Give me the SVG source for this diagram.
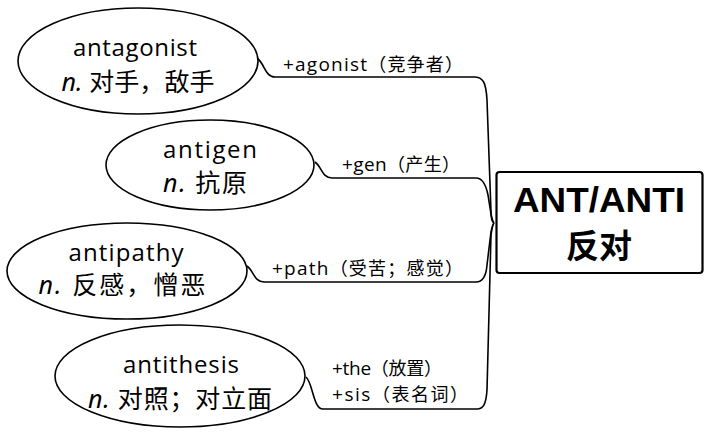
<svg xmlns="http://www.w3.org/2000/svg" width="706" height="433" viewBox="0 0 706 433">
<style>
.bg{fill:#fff}
.el{fill:#fff;stroke:#000;stroke-width:1.6}
.t{font-family:"Open Sans","Noto Sans CJK SC",sans-serif;font-size:24px;fill:#000;text-anchor:middle}
.c{font-family:"Noto Sans","Noto Sans CJK SC",sans-serif;font-size:25px;fill:#000;text-anchor:middle}
.i{font-style:italic}
.l{font-family:"Open Sans","Noto Sans CJK SC",sans-serif;font-size:18px;fill:#000}
.lt{font-size:19px}
.cn{fill:none;stroke:#000;stroke-width:1.6}
.box{fill:#fff;stroke:#000;stroke-width:2.2}
.bt{font-family:"Liberation Sans","Noto Sans CJK SC",sans-serif;font-weight:bold;fill:#000;text-anchor:middle}
</style>
<rect class="bg" x="0" y="0" width="706" height="433"/>
<g id="connectors">
<path class="cn" d="M257,58 C265,64 265,77 275,77 L474,77 C483,77 486,82 487,100 L491,212 C491,219 492,222 494,223"/>
<path class="cn" d="M315,162 C322,167 322,178 332,178 L476,178 C483,178 486,185 488,195 L491,214 C492,219 493,222 494,223"/>
<path class="cn" d="M247,266 C254,271 254,282 264,282 L476,282 C482,282 486,278 487,265 L491,232 C492,227 493,224 494,223"/>
<path class="cn" d="M306,377 C313,383 313,409 323,409 L477,409 C483,409 486,405 487,390 L491,235 C492,228 493,224 494,223"/>
<text class="l" x="283" y="71" textLength="180" lengthAdjust="spacing"><tspan class="lt">+agonist</tspan>（竞争者）</text>
<text class="l" x="342" y="171" textLength="118" lengthAdjust="spacing"><tspan class="lt">+gen</tspan>（产生）</text>
<text class="l" x="272" y="275" textLength="191" lengthAdjust="spacing"><tspan class="lt">+path</tspan>（受苦；感觉）</text>
<text class="l" x="332" y="375" textLength="110" lengthAdjust="spacing"><tspan class="lt">+the</tspan>（放置）</text>
<text class="l" x="332" y="401" textLength="136" lengthAdjust="spacing"><tspan class="lt">+sis</tspan>（表名词）</text>
</g>
<g id="antagonist">
<ellipse class="el" cx="138" cy="61" rx="120" ry="53"/>
<text class="t" x="135" y="56" textLength="124" lengthAdjust="spacing">antagonist</text>
<text class="c" x="138" y="91" textLength="153" lengthAdjust="spacing"><tspan class="i">n.</tspan> 对手，敌手</text>
</g>
<g id="antigen">
<ellipse class="el" cx="210" cy="165" rx="104" ry="45"/>
<text class="t" x="210" y="158" textLength="94" lengthAdjust="spacing">antigen</text>
<text class="c" x="205" y="192" textLength="84" lengthAdjust="spacing"><tspan class="i">n.</tspan> 抗原</text>
</g>
<g id="antipathy">
<ellipse class="el" cx="127" cy="271" rx="120" ry="48"/>
<text class="t" x="126" y="261" textLength="115" lengthAdjust="spacing">antipathy</text>
<text class="c" x="122" y="294" textLength="167" lengthAdjust="spacing"><tspan class="i">n.</tspan> 反感，憎恶</text>
</g>
<g id="antithesis">
<ellipse class="el" cx="180" cy="376" rx="125" ry="51"/>
<text class="t" x="181" y="373" textLength="116" lengthAdjust="spacing">antithesis</text>
<text class="c" x="180" y="408" textLength="184" lengthAdjust="spacing"><tspan class="i">n.</tspan> 对照；对立面</text>
</g>
<g id="ant-anti">
<rect class="box" x="496.5" y="172" width="206" height="101" rx="3"/>
<text class="bt" x="599" y="212" font-size="35" textLength="172" lengthAdjust="spacingAndGlyphs">ANT/ANTI</text>
<text class="bt" x="599" y="258" font-size="33">反对</text>
</g>
</svg>
